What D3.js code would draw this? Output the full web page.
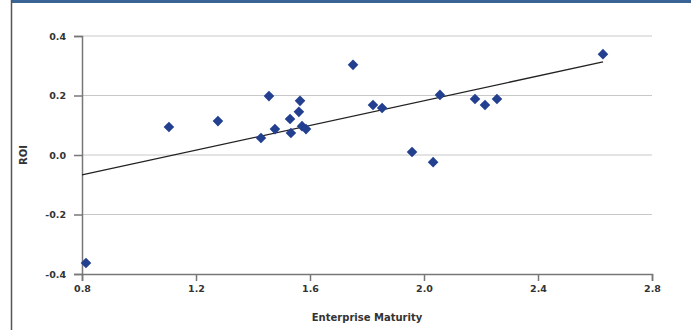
<!DOCTYPE html>
<html><head><meta charset="utf-8">
<script src="https://cdn.jsdelivr.net/npm/d3@7"></script>
<style>body{margin:0;background:#fff;}svg{display:block;}</style>
</head><body>
<svg id="c" width="691" height="330"></svg>
<script>
const maturity = [0.814,1.105,1.277,1.456,1.428,1.477,1.530,1.533,1.565,1.561,1.572,1.586,1.751,1.821,1.853,1.958,2.032,2.056,2.179,2.214,2.256,2.628];
const roi      = [-0.363,0.094,0.114,0.198,0.057,0.087,0.121,0.074,0.182,0.145,0.097,0.087,0.303,0.168,0.158,0.010,-0.024,0.202,0.188,0.168,0.188,0.339];
const trendX = [0.8, 2.628];
const trendY = [-0.067, 0.313];
const xTicks = [0.8,1.2,1.6,2.0,2.4,2.8];
const yTicks = [-0.4,-0.2,0.0,0.2,0.4];

const svg = d3.select("#c");
const x = d3.scaleLinear().domain([0.8,2.8]).range([82,652]);
const y = d3.scaleLinear().domain([-0.4,0.4]).range([274,36]);

// frame
svg.append("rect").attr("x",11).attr("y",0).attr("width",680).attr("height",3).attr("fill","#3a6496");
svg.append("line").attr("x1",11.5).attr("x2",11.5).attr("y1",0).attr("y2",330).attr("stroke","#555").attr("stroke-width",1.5);

// gridlines
svg.append("g").selectAll("line").data(yTicks.filter(d=>d>-0.4)).join("line")
  .attr("x1",82).attr("x2",652).attr("y1",d=>y(d)).attr("y2",d=>y(d))
  .attr("stroke","#c8c8c8").attr("stroke-width",1);

const font = "'DejaVu Sans', sans-serif";
// axes
const yAxis = svg.append("g").attr("transform","translate(82,0)")
  .call(d3.axisLeft(y).tickValues(yTicks).tickFormat(d3.format(".1f")).tickSize(8).tickPadding(8));
const xAxis = svg.append("g").attr("transform","translate(0,274)")
  .call(d3.axisBottom(x).tickValues(xTicks).tickFormat(d3.format(".1f")).tickSize(7).tickPadding(4));
[yAxis,xAxis].forEach(a=>{
  a.select(".domain").attr("stroke","#777").attr("stroke-width",1.5);
  a.selectAll(".tick line").attr("stroke","#777").attr("stroke-width",1.5);
  a.selectAll("text").attr("fill","#333").style("font-family",font).style("font-size","9.5px").style("font-weight","bold");
});
yAxis.selectAll(".tick text").text(d=> d3.format(".1f")(d).replace("−","-"));

// trendline
svg.append("line").attr("x1",x(trendX[0])).attr("y1",y(trendY[0])).attr("x2",x(trendX[1])).attr("y2",y(trendY[1]))
  .attr("stroke","#222").attr("stroke-width",1.3);

// points
const sym = d3.symbol().type(d3.symbolSquare).size(56);
svg.append("g").selectAll("path").data(maturity.map((m,i)=>[m,roi[i]])).join("path")
  .attr("d",sym)
  .attr("transform",d=>`translate(${x(d[0])},${y(d[1])}) rotate(45)`)
  .attr("fill","#233f8f");

// titles
svg.append("text").attr("x",367).attr("y",321).attr("text-anchor","middle")
  .style("font-family",font).style("font-size","10px").style("font-weight","bold").attr("fill","#333").text("Enterprise Maturity");
svg.append("text").attr("transform","translate(27,155) rotate(-90)").attr("text-anchor","middle")
  .style("font-family",font).style("font-size","10px").style("font-weight","bold").attr("fill","#333").text("ROI");
</script>
</body></html>
